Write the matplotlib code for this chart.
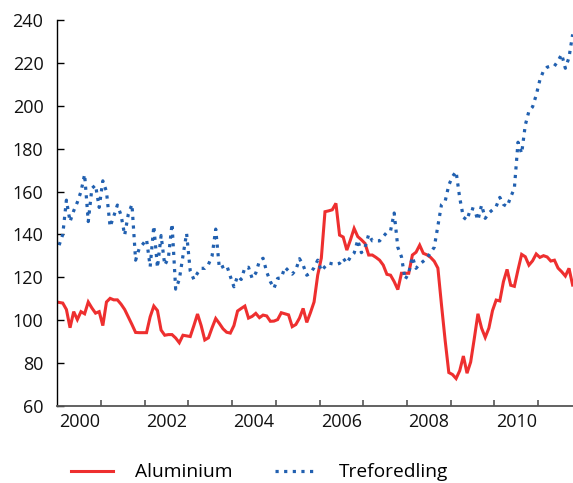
import numpy as np
import matplotlib
matplotlib.use("Agg")
import matplotlib.pyplot as plt

plt.rcParams['font.family'] = ['Open Sans', 'DejaVu Sans']

# Monthly index values, Jan 2000 - Oct 2011
aluminium = [
    108.3, 108, 105, 96.5, 104, 100.3, 104, 103, 108.5, 105.7, 103.3, 104,
    97.5, 108.5, 110.2, 109.5, 109.5, 107.5, 105, 101.5, 98, 94.3, 94.2, 94.2,
    94.2, 101.6, 106.6, 104.5, 95.4, 93, 93.3, 93.3, 91.7, 89.5, 93, 92.7,
    92.4, 97.5, 102.9, 97.5, 90.8, 91.8, 96.5, 100.8, 98.5, 96, 94.4, 94,
    97.5, 104.3, 105.5, 106.6, 101, 101.8, 103.2, 101.2, 102.4, 102, 99.5, 99.6,
    100.3, 103.5, 103, 102.5, 97, 98, 101, 105.5, 99, 103.5, 108.5, 121,
    129, 150.6, 151, 151.5, 154.5, 139.7, 138.8, 132.7, 137.5, 142.8, 139, 137.5,
    135.8, 130.4, 130.4, 129.3, 128, 125.7, 121.4, 121, 118, 114.3, 121.9, 121.9,
    121.9, 130.4, 131.7, 135, 131.2, 130.5, 129.3, 127.5, 124.3, 107, 90.5, 75.6,
    74.7, 72.8, 76.5, 83.3, 75.3, 80.5, 91.5, 103, 96.3, 92, 96.3, 104.5,
    109.4, 109, 118, 123.7, 116.3, 115.8, 123.5, 130.7, 129.6, 125.7, 127.7, 130.9,
    129.3, 130.1, 129.5, 127.6, 128, 124.3, 122.6, 120.6, 124.2, 116.4,
]

treforedling = [
    135, 140, 156, 146, 151, 155, 160, 168, 146, 161.5, 163, 152.6,
    165, 160, 143.6, 148.5, 153.7, 149, 139.7, 149.5, 154, 128, 133.5, 135.5,
    137.7, 125, 144, 124.5, 139.5, 125.7, 129, 145, 114.5, 119, 130, 140.5,
    123, 119, 122, 124.2, 124.2, 126, 130, 142.5, 124.2, 125, 125.7, 120.5,
    115.6, 120.6, 119, 124.5, 124.7, 119.5, 122, 127.6, 128.9, 122.5, 118, 114.9,
    119.5, 119.8, 124.7, 123, 121.5, 123.4, 128.7, 125.7, 121, 122, 124.5, 128,
    123, 125, 126.7, 126.3, 126, 126.5, 128.9, 126.6, 129.5, 131.3, 137.4, 131.5,
    134, 140, 137, 137, 137, 139, 141, 141.7, 150, 134, 129.6, 119,
    122, 129.5, 124.2, 126.2, 127.5, 129, 131.5, 134, 144, 154, 155.5, 163,
    167, 169.3, 157, 148, 146.7, 152.2, 151.7, 146.7, 153.7, 147.5, 150, 151.5,
    153, 157.3, 154, 153, 157.5, 161.5, 183, 177.8, 191, 197.5, 199.5, 205,
    212, 216.3, 218, 218.5, 218.5, 221, 224, 217.5, 222.5, 233.3,
]

series_labels = ["Aluminium", "Treforedling"]
year_labels = ["2000", "2002", "2004", "2006", "2008", "2010"]
y_ticks = [60, 80, 100, 120, 140, 160, 180, 200, 220, 240]

start_year = 2000
t = start_year + (np.arange(len(aluminium)) + 0.5) / 12.0

fig = plt.figure(figsize=(5.73, 4.83), dpi=100)
ax = fig.add_axes([0.100, 0.1594, 0.900, 0.7992])

red = '#EE2F2F'
blue = '#2160B0'

ax.plot(t, aluminium, color=red, lw=2.2, solid_joinstyle='miter', label=series_labels[0])
ax.plot(t, treforedling, color=blue, lw=2.3, linestyle=(0, (1.0, 1.7)),
        dash_capstyle='butt', label=series_labels[1])

ax.set_xlim(2000, 2011.8)
ax.set_ylim(60, 240)

ax.set_yticks(y_ticks)
ax.set_yticklabels([str(v) for v in y_ticks])

# Year boundary tick marks
ax.set_xticks(np.arange(2001, 2012))
ax.set_xticklabels([])
# Labels centered within years
ax.set_xticks([int(y) + 0.5 for y in year_labels], minor=True)
ax.set_xticklabels(year_labels, minor=True)

ax.tick_params(axis='y', direction='in', length=5, width=1.0, color='black',
               labelsize=13, pad=10, labelcolor='#111111')
ax.tick_params(axis='x', which='major', direction='in', length=4, width=1.2, color='#555555')
ax.tick_params(axis='x', which='minor', length=0, labelsize=13, pad=5, labelcolor='#111111')

for s in ['top', 'right']:
    ax.spines[s].set_visible(False)
ax.spines['left'].set_color('black')
ax.spines['left'].set_linewidth(1.0)
ax.spines['bottom'].set_color('#555555')
ax.spines['bottom'].set_linewidth(1.3)

leg = fig.legend(loc='center left', bbox_to_anchor=(0.124, 0.022), ncol=2, frameon=False,
                 fontsize=13.8, handlelength=2.19, handletextpad=1.13, columnspacing=2.24,
                 borderpad=0, borderaxespad=0)

fig.savefig('out.png', dpi=100)
